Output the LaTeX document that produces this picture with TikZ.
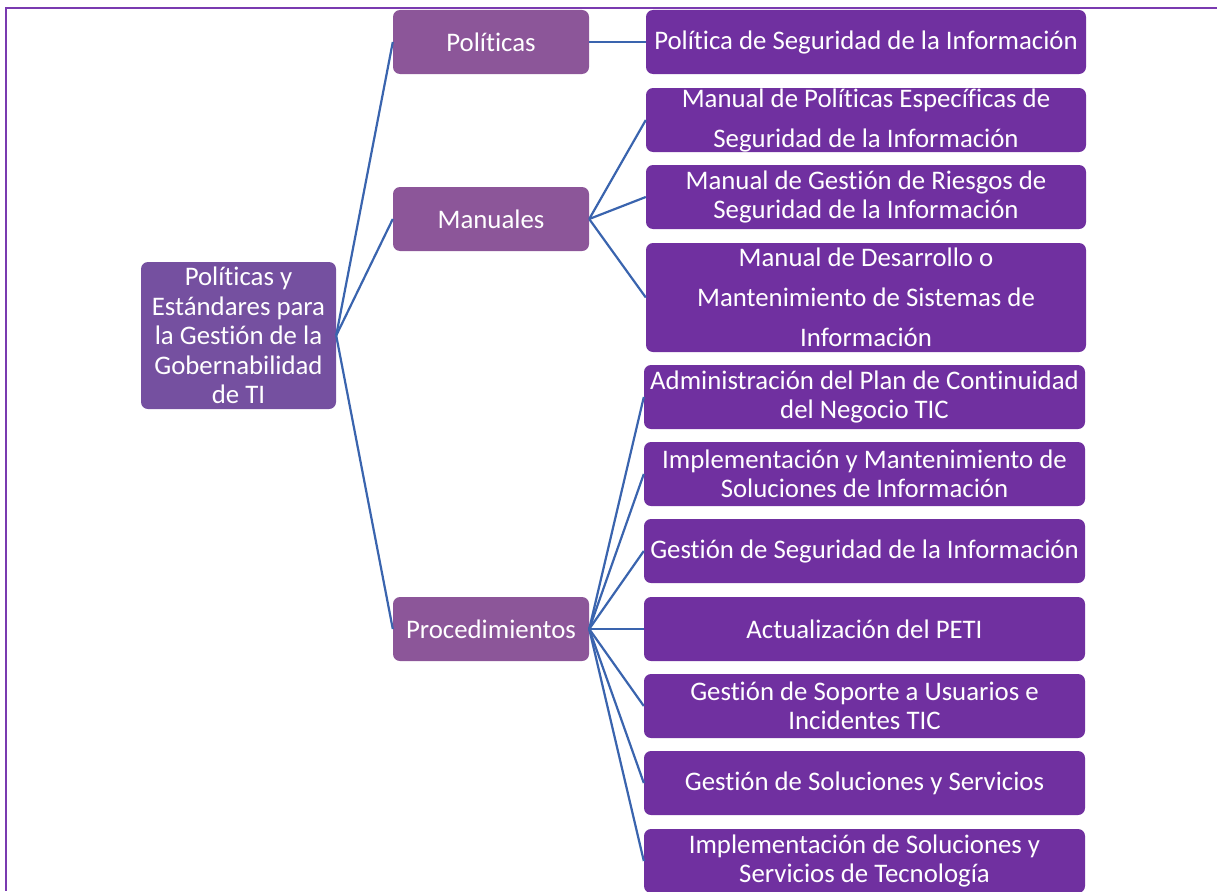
\documentclass[tikz,border=0pt]{standalone}
\usepackage{fontspec}
\setmainfont{Carlito}[Ligatures=NoCommon]
\usetikzlibrary{positioning}

\definecolor{raiz}{HTML}{7550A0}
\definecolor{rama}{HTML}{8C5699}
\definecolor{hoja}{HTML}{7030A0}
\definecolor{linea}{HTML}{3A64AE}
\definecolor{marco}{HTML}{7A3AB0}

\begin{document}
\begin{tikzpicture}[x=1pt,y=-1pt,
    caja/.style={rounded corners=7pt,text=white,align=center,inner sep=0pt,
                 font=\fontsize{26.8}{29.5}\selectfont},
    raizbox/.style={caja,fill=raiz,minimum width=195pt,minimum height=147pt},
    ramabox/.style={caja,fill=rama,minimum width=196pt,minimum height=64pt},
    hojabox/.style={caja,fill=hoja,minimum width=440pt,minimum height=64pt},
    ancha/.style={font=\fontsize{26.8}{40}\selectfont},
    conector/.style={draw=linea,line width=2.2pt}]

  \useasboundingbox (0,0) rectangle (1217,891);
  \draw[marco,line width=2pt] (1217,8) -- (5.5,8) -- (5.5,891);

  \node[raizbox] (raiz) at (238.5,335.5) {Políticas y\\Estándares para\\la Gestión de la\\Gobernabilidad\\de TI};

  \node[ramabox] (pol) at (491,42)  {Políticas};
  \node[ramabox] (man) at (491,219) {Manuales};
  \node[ramabox] (pro) at (491,629) {Procedimientos};

  \node[hojabox] (p1) at (866,42)  {Política de Seguridad de la Información};
  \node[hojabox,ancha] (m1) at (866,120) {Manual de Políticas Específicas de\\Seguridad de la Información};
  \node[hojabox] (m2) at (866,197) {Manual de Gestión de Riesgos de\\Seguridad de la Información};
  \node[hojabox,ancha,minimum height=109pt] (m3) at (866,297.5) {Manual de Desarrollo o\\Mantenimiento de Sistemas de\\Información};

  \node[hojabox,minimum width=441pt] (r1) at (864.5,397) {Administración del Plan de Continuidad\\del Negocio TIC};
  \node[hojabox,minimum width=441pt] (r2) at (864.5,474) {Implementación y Mantenimiento de\\Soluciones de Información};
  \node[hojabox,minimum width=441pt] (r3) at (864.5,551) {Gestión de Seguridad de la Información};
  \node[hojabox,minimum width=441pt] (r4) at (864.5,629) {Actualización del PETI};
  \node[hojabox,minimum width=441pt] (r5) at (864.5,706) {Gestión de Soporte a Usuarios e\\Incidentes TIC};
  \node[hojabox,minimum width=441pt] (r6) at (864.5,783) {Gestión de Soluciones y Servicios};
  \node[hojabox,minimum width=441pt] (r7) at (864.5,861) {Implementación de Soluciones y\\Servicios de Tecnología};

  \path[conector] (raiz.east) edge (pol.west)
                              edge (man.west)
                              edge (pro.west)
        (pol.east) edge (p1.west)
        (man.east) edge (m1.west)
                   edge (m2.west)
                   edge (m3.west)
        (pro.east) edge (r1.west)
                   edge (r2.west)
                   edge (r3.west)
                   edge (r4.west)
                   edge (r5.west)
                   edge (r6.west)
                   edge (r7.west);
\end{tikzpicture}
\end{document}
